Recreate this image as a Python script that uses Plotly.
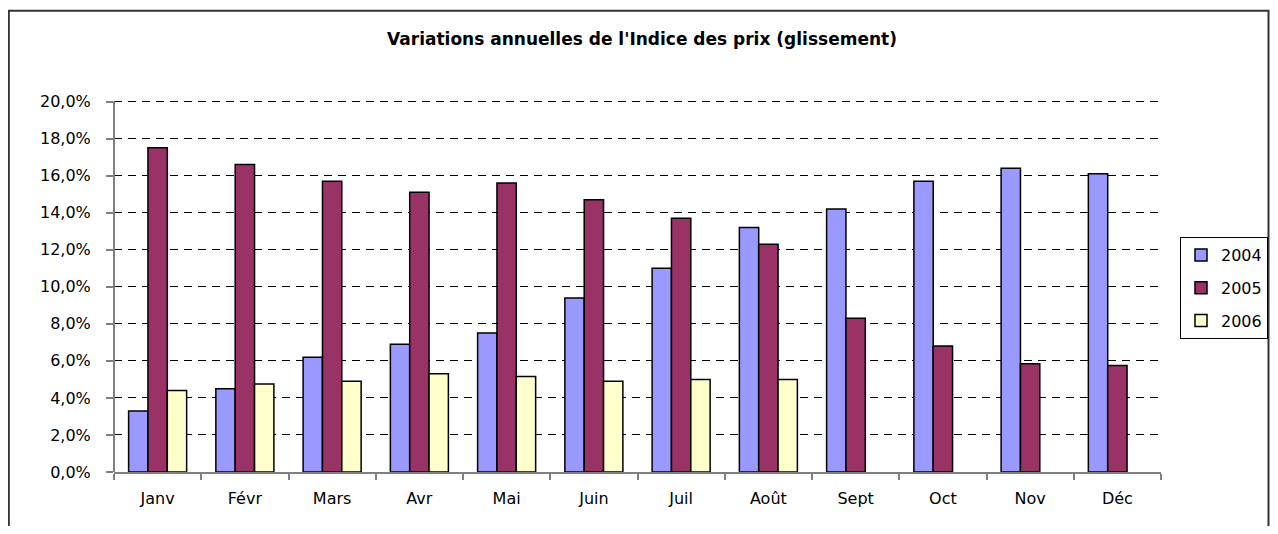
import plotly.graph_objects as go

months = ["Janv", "Févr", "Mars", "Avr", "Mai", "Juin", "Juil", "Août", "Sept", "Oct", "Nov", "Déc"]
v2004 = [3.3, 4.5, 6.2, 6.9, 7.5, 9.4, 11.0, 13.2, 14.2, 15.7, 16.4, 16.1]
v2005 = [17.5, 16.6, 15.7, 15.1, 15.6, 14.7, 13.7, 12.3, 8.3, 6.8, 5.85, 5.75]
v2006 = [4.4, 4.75, 4.9, 5.3, 5.15, 4.9, 5.0, 5.0, None, None, None, None]
series_names = ["2004", "2005", "2006"]
series_colors = ["#9999FF", "#993366", "#FFFFCC"]

FONT = "DejaVu Sans, Liberation Sans, Arial, sans-serif"

fig = go.Figure()
for name, vals, col in zip(series_names, [v2004, v2005, v2006], series_colors):
    fig.add_trace(go.Bar(
        x=months, y=vals, name=name, legendgroup=name,
        marker=dict(color=col, line=dict(color="#000000", width=1.5)),
    ))

OFF = 8  # page body margin
YMAX = 20.3
px_per_unit = (472 - 102) / 20.0
W, H = 1278 - 2 * OFF, 534 - 2 * OFF
L = 114 - OFF
T = round(472 - YMAX * px_per_unit) - OFF
R = W - (1161 - OFF)
B = H - (472 - OFF)
pw = W - L - R
ph = H - T - B

def px_x(page_x):
    return (page_x - OFF - L) / pw

def px_y(page_y):
    return (H - B - (page_y - OFF)) / ph

fig.update_layout(
    width=W, height=H,
    margin=dict(l=L, r=R, t=T, b=B, pad=0, autoexpand=False),
    paper_bgcolor="white", plot_bgcolor="white",
    barmode="group", bargap=0.335, bargroupgap=0,
    separators=", ",
    font=dict(family=FONT, size=16, color="#000000"),
    title=dict(
        text="<b>Variations annuelles de l'Indice des prix (glissement)</b>",
        x=(642 - OFF) / W, xref="container", xanchor="center",
        y=1 - (39 - OFF) / H, yref="container", yanchor="middle",
        font=dict(family=FONT, size=17, color="#000000"),
    ),
    legend=dict(
        x=px_x(1180), y=px_y(237), xanchor="left", yanchor="top",
        bordercolor="#000000", borderwidth=1, bgcolor="white",
        font=dict(family=FONT, size=16, color="#000000"),
        traceorder="grouped", tracegroupgap=9,
        itemwidth=30,
    ),
    xaxis=dict(
        showline=True, linecolor="#808080", linewidth=2,
        ticks="outside", tickson="boundaries", ticklen=6, tickcolor="#808080", tickwidth=2,
        showgrid=False, ticklabelstandoff=11,
        tickfont=dict(family=FONT, size=16, color="#000000"),
    ),
    yaxis=dict(
        range=[0, YMAX], tick0=0, dtick=2, tickformat=".1f", ticksuffix="%",
        showline=False,
        ticks="outside", ticklen=7, tickcolor="#808080", tickwidth=1.5,
        showgrid=True, gridcolor="#000000", gridwidth=1, griddash="8px,6px",
        zeroline=False, ticklabelstandoff=12,
        tickfont=dict(family=FONT, size=16, color="#000000"),
    ),
    shapes=[
        dict(
            type="rect", xref="paper", yref="paper",
            x0=px_x(8.8), x1=px_x(1268.5), y0=px_y(560), y1=px_y(10.7),
            line=dict(color="#333333", width=2), fillcolor="rgba(0,0,0,0)", layer="below",
        ),
        dict(
            type="line", xref="paper", yref="y",
            x0=0, x1=0, y0=0, y1=20,
            line=dict(color="#808080", width=2), layer="above",
        ),
    ],
)

fig.write_html("out.html")
